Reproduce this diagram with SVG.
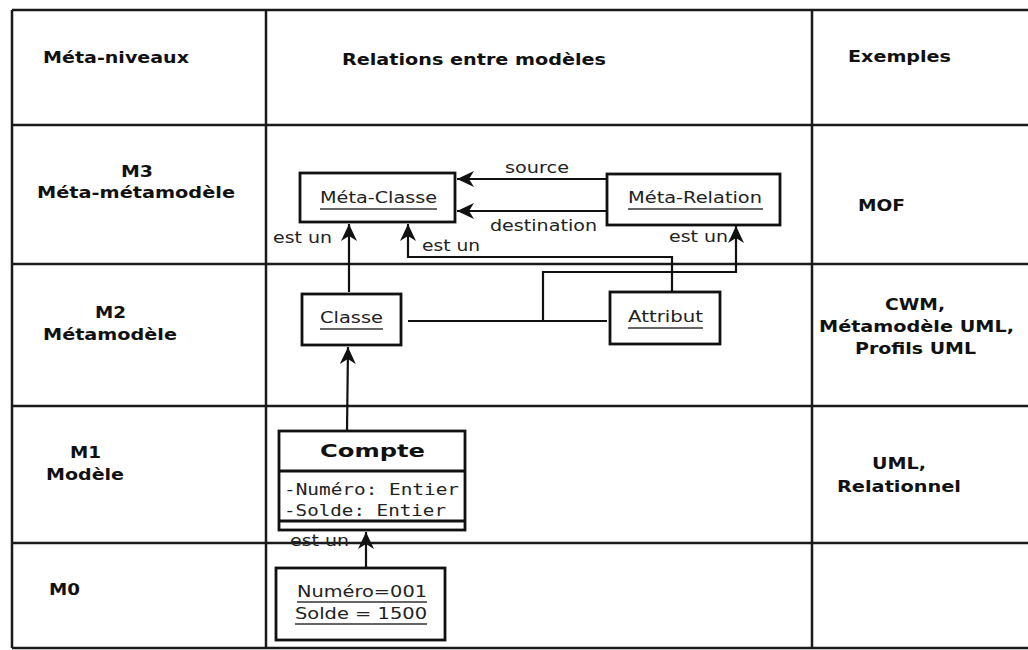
<svg xmlns="http://www.w3.org/2000/svg" width="1028" height="650" viewBox="0 0 1028 650">
  <defs>
    <style>
      .grid { stroke: #1a1a1a; stroke-width: 2.5; fill: none; }
      .box { fill: #fff; stroke: #111; stroke-width: 2.8; }
      .conn { fill: none; stroke: #111; stroke-width: 2.2; }
      .ul { stroke: #333; stroke-width: 1.5; }
      .hdr { font-family: "DejaVu Sans", "Noto Sans", sans-serif; font-weight: bold; font-size: 15.5px; fill: #111; }
      .lbl { font-family: "DejaVu Sans", "Noto Sans", sans-serif; font-size: 15.5px; fill: #222; }
      .mono { font-family: "DejaVu Sans Mono", "Liberation Mono", monospace; font-size: 15px; fill: #222; }
      .title { font-family: "DejaVu Sans", "Noto Sans", sans-serif; font-weight: bold; font-size: 18.5px; fill: #111; }
    </style>
    <marker id="arrow" markerUnits="userSpaceOnUse" markerWidth="20" markerHeight="20" refX="17" refY="10" orient="auto">
      <path d="M17,10 L0,2 L5,10 L0,18 Z" fill="#111"/>
    </marker>
  </defs>

  <rect width="1028" height="650" fill="#fff"/>

  <!-- table grid -->
  <g id="table">
    <line class="grid" x1="12" y1="10" x2="1030" y2="10"/>
    <line class="grid" x1="12" y1="125" x2="1030" y2="125"/>
    <line class="grid" x1="12" y1="264" x2="1030" y2="264"/>
    <line class="grid" x1="12" y1="406" x2="1030" y2="406"/>
    <line class="grid" x1="12" y1="543" x2="1030" y2="543"/>
    <line class="grid" x1="12" y1="648" x2="1030" y2="648"/>
    <line class="grid" x1="12" y1="10" x2="12" y2="648"/>
    <line class="grid" x1="266" y1="10" x2="266" y2="648"/>
    <line class="grid" x1="812" y1="10" x2="812" y2="648"/>
  </g>

  <!-- column headings -->
  <g id="headings">
    <text class="hdr" x="43" y="63" textLength="146" lengthAdjust="spacingAndGlyphs">Méta-niveaux</text>
    <text class="hdr" x="342" y="65" textLength="264" lengthAdjust="spacingAndGlyphs">Relations entre modèles</text>
    <text class="hdr" x="848" y="62" textLength="103" lengthAdjust="spacingAndGlyphs">Exemples</text>
  </g>

  <!-- level names -->
  <g id="levels">
    <text class="hdr" x="121" y="177" textLength="32" lengthAdjust="spacingAndGlyphs">M3</text>
    <text class="hdr" x="37" y="198" textLength="198" lengthAdjust="spacingAndGlyphs">Méta-métamodèle</text>
    <text class="hdr" x="95" y="318" textLength="31" lengthAdjust="spacingAndGlyphs">M2</text>
    <text class="hdr" x="43" y="340" textLength="134" lengthAdjust="spacingAndGlyphs">Métamodèle</text>
    <text class="hdr" x="70" y="458" textLength="31" lengthAdjust="spacingAndGlyphs">M1</text>
    <text class="hdr" x="46" y="480" textLength="78" lengthAdjust="spacingAndGlyphs">Modèle</text>
    <text class="hdr" x="49" y="595" textLength="31" lengthAdjust="spacingAndGlyphs">M0</text>
  </g>

  <!-- examples -->
  <g id="examples">
    <text class="hdr" x="858" y="211" textLength="47" lengthAdjust="spacingAndGlyphs">MOF</text>
    <text class="hdr" x="885" y="310" textLength="60" lengthAdjust="spacingAndGlyphs">CWM,</text>
    <text class="hdr" x="819" y="332" textLength="195" lengthAdjust="spacingAndGlyphs">Métamodèle UML,</text>
    <text class="hdr" x="855" y="354" textLength="121" lengthAdjust="spacingAndGlyphs">Profils UML</text>
    <text class="hdr" x="872" y="469" textLength="54" lengthAdjust="spacingAndGlyphs">UML,</text>
    <text class="hdr" x="837" y="492" textLength="124" lengthAdjust="spacingAndGlyphs">Relationnel</text>
  </g>

  <!-- connectors -->
  <g id="connectors">
    <line class="conn" x1="607" y1="179" x2="457" y2="179" marker-end="url(#arrow)"/>
    <line class="conn" x1="607" y1="211" x2="457" y2="211" marker-end="url(#arrow)"/>
    <line class="conn" x1="349" y1="292" x2="349" y2="224" marker-end="url(#arrow)"/>
    <polyline class="conn" points="672,292 672,257 408,257 408,224" marker-end="url(#arrow)"/>
    <polyline class="conn" points="543,321 543,272 736,272 736,226" marker-end="url(#arrow)"/>
    <line class="conn" x1="408" y1="321" x2="607" y2="321"/>
    <line class="conn" x1="347" y1="431" x2="348" y2="347" marker-end="url(#arrow)"/>
    <line class="conn" x1="366" y1="568" x2="366" y2="532" marker-end="url(#arrow)"/>

    <text class="lbl" x="505" y="173" textLength="64" lengthAdjust="spacingAndGlyphs">source</text>
    <text class="lbl" x="490" y="231" textLength="107" lengthAdjust="spacingAndGlyphs">destination</text>
    <text class="lbl" x="273" y="243" textLength="59" lengthAdjust="spacingAndGlyphs">est un</text>
    <text class="lbl" x="422" y="251" textLength="58" lengthAdjust="spacingAndGlyphs">est un</text>
    <text class="lbl" x="669" y="242" textLength="59" lengthAdjust="spacingAndGlyphs">est un</text>
    <text class="lbl" x="290" y="546" textLength="59" lengthAdjust="spacingAndGlyphs">est un</text>
  </g>

  <!-- M3 nodes -->
  <g id="meta-classe">
    <rect class="box" x="300" y="173" width="155" height="49"/>
    <text class="lbl" x="320" y="203" textLength="117" lengthAdjust="spacingAndGlyphs">Méta-Classe</text>
    <line class="ul" x1="320" y1="209" x2="437" y2="209"/>
  </g>
  <g id="meta-relation">
    <rect class="box" x="607" y="174" width="173" height="51"/>
    <text class="lbl" x="628" y="203" textLength="134" lengthAdjust="spacingAndGlyphs">Méta-Relation</text>
    <line class="ul" x1="628" y1="209" x2="763" y2="209"/>
  </g>

  <!-- M2 nodes -->
  <g id="classe">
    <rect class="box" x="302" y="294" width="99" height="51"/>
    <text class="lbl" x="320" y="323" textLength="63" lengthAdjust="spacingAndGlyphs">Classe</text>
    <line class="ul" x1="320" y1="329" x2="383" y2="329"/>
  </g>
  <g id="attribut">
    <rect class="box" x="610" y="292" width="110" height="52"/>
    <text class="lbl" x="628" y="322" textLength="75" lengthAdjust="spacingAndGlyphs">Attribut</text>
    <line class="ul" x1="628" y1="328" x2="703" y2="328"/>
  </g>

  <!-- M1 node -->
  <g id="compte">
    <rect class="box" x="279" y="431" width="186" height="99"/>
    <line class="box" x1="279" y1="471" x2="465" y2="471"/>
    <line class="box" x1="279" y1="521" x2="465" y2="521"/>
    <text class="title" x="320" y="457" textLength="105" lengthAdjust="spacingAndGlyphs">Compte</text>
    <text class="mono" x="284" y="495" textLength="175" lengthAdjust="spacingAndGlyphs">-Numéro: Entier</text>
    <text class="mono" x="284" y="516" textLength="162" lengthAdjust="spacingAndGlyphs">-Solde: Entier</text>
  </g>

  <!-- M0 node -->
  <g id="instance">
    <rect class="box" x="276" y="568" width="169" height="72"/>
    <text class="lbl" x="297" y="597" textLength="130" lengthAdjust="spacingAndGlyphs">Numéro=001</text>
    <line class="ul" x1="297" y1="602" x2="427" y2="602"/>
    <text class="lbl" x="295" y="619" textLength="132" lengthAdjust="spacingAndGlyphs">Solde = 1500</text>
    <line class="ul" x1="295" y1="624" x2="427" y2="624"/>
  </g>
</svg>
